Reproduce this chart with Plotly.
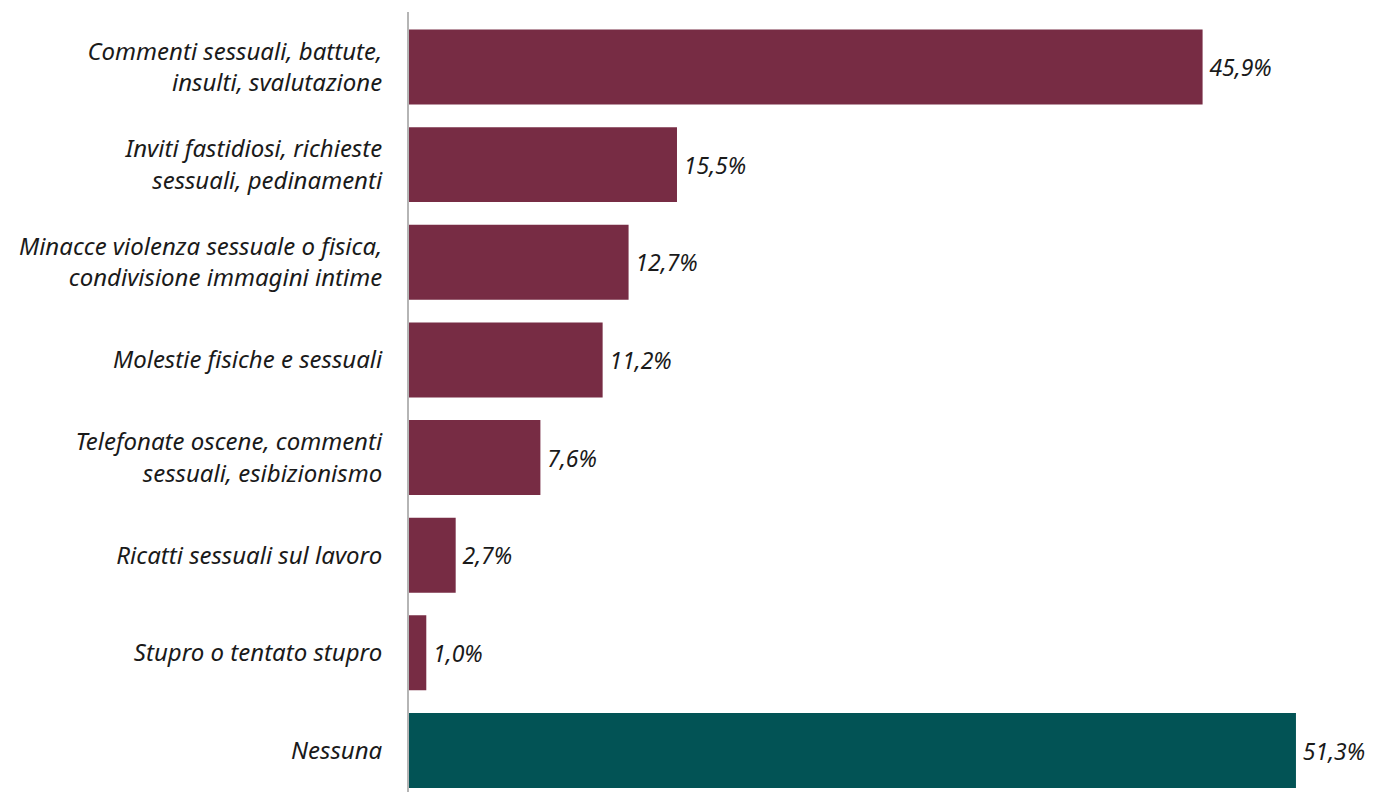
import plotly.graph_objects as go

categories = [
    "Commenti sessuali, battute,<br>insulti, svalutazione",
    "Inviti fastidiosi, richieste<br>sessuali, pedinamenti",
    "Minacce violenza sessuale o fisica,<br>condivisione immagini intime",
    "Molestie fisiche e sessuali",
    "Telefonate oscene, commenti<br>sessuali, esibizionismo",
    "Ricatti sessuali sul lavoro",
    "Stupro o tentato stupro",
    "Nessuna",
]
values = [45.9, 15.5, 12.7, 11.2, 7.6, 2.7, 1.0, 51.3]
labels = ["45,9%", "15,5%", "12,7%", "11,2%", "7,6%", "2,7%", "1,0%", "51,3%"]
colors = ["#772c44"] * 7 + ["#025355"]

FONT = "Noto Sans"

fig = go.Figure(
    go.Bar(
        y=categories,
        x=values,
        orientation="h",
        marker=dict(color=colors, line=dict(width=0)),
        text=labels,
        texttemplate="\u2009%{text}",
        textposition="outside",
        textfont=dict(family=FONT, size=23, color="#1a1a1a", style="italic"),
        cliponaxis=False,
        hoverinfo="skip",
    )
)

fig.update_layout(
    width=1377,
    height=784,
    margin=dict(l=401, r=0, t=4, b=0),
    paper_bgcolor="white",
    plot_bgcolor="white",
    bargap=0.232,
    showlegend=False,
    xaxis=dict(
        range=[0, 56.45],
        visible=False,
        showgrid=False,
        zeroline=False,
    ),
    yaxis=dict(
        type="category",
        categoryorder="array",
        categoryarray=categories,
        range=[7.425, -0.563],
        showline=True,
        linecolor="#b5b5b5",
        linewidth=2,
        showgrid=False,
        zeroline=False,
        ticks="",
        ticklabelstandoff=20,
        tickfont=dict(family=FONT, size=24, color="#1a1a1a", style="italic"),
    ),
)

fig.write_html("out.html")
